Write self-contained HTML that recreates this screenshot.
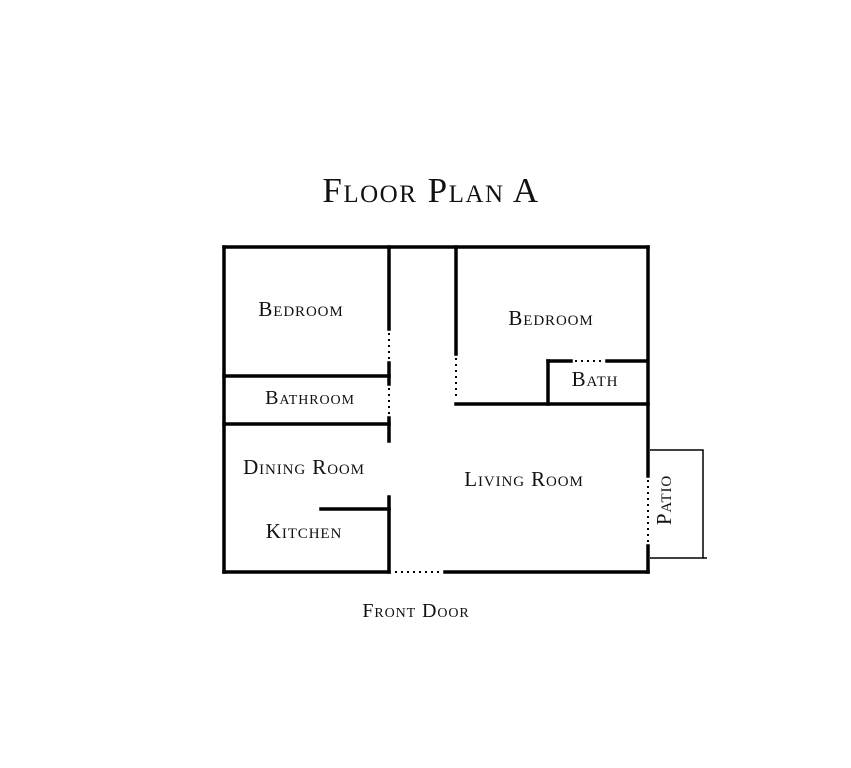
<!DOCTYPE html>
<html><head><meta charset="utf-8"><style>
html,body{margin:0;padding:0;background:#fff;}
svg{display:block}
text{font-family:"Liberation Serif",serif;font-variant:small-caps;fill:#111;text-anchor:middle;letter-spacing:0.9px}
</style></head><body>
<svg width="851" height="768" viewBox="0 0 851 768" xmlns="http://www.w3.org/2000/svg">
<text x="431" y="202" font-size="35" style="letter-spacing:1.5px">Floor Plan A</text>
<g stroke="#000" stroke-width="3.5" fill="none" stroke-linecap="square">
<line x1="224" y1="247" x2="648" y2="247"/>
<line x1="224" y1="247" x2="224" y2="572"/>
<line x1="224" y1="572" x2="389" y2="572"/>
<line x1="445" y1="572" x2="648" y2="572"/>
<line x1="648" y1="247" x2="648" y2="476"/>
<line x1="648" y1="546" x2="648" y2="572"/>
<line x1="389" y1="247" x2="389" y2="329"/>
<line x1="389" y1="363" x2="389" y2="384"/>
<line x1="389" y1="418" x2="389" y2="441"/>
<line x1="389" y1="497" x2="389" y2="572"/>
<line x1="224" y1="376" x2="389" y2="376"/>
<line x1="224" y1="424" x2="389" y2="424"/>
<line x1="321" y1="509" x2="389" y2="509"/>
<line x1="456" y1="247" x2="456" y2="354"/>
<line x1="456" y1="404" x2="648" y2="404"/>
<line x1="548" y1="361" x2="548" y2="404"/>
<line x1="548" y1="361" x2="571" y2="361"/>
<line x1="607" y1="361" x2="646" y2="361"/>
</g>
<g stroke="#000" stroke-width="2" stroke-dasharray="2,4" fill="none">
<line x1="389" y1="333" x2="389" y2="360"/>
<line x1="389" y1="388" x2="389" y2="416"/>
<line x1="456" y1="358" x2="456" y2="400"/>
<line x1="395" y1="572" x2="442" y2="572"/>
<line x1="575" y1="361" x2="605" y2="361"/>
<line x1="648" y1="480" x2="648" y2="543"/>
</g>
<g stroke="#000" stroke-width="1.5" fill="none">
<polyline points="650,450 703,450 703,558 650,558"/>
<line x1="703" y1="558" x2="707" y2="558"/>
</g>
<text x="301" y="316" font-size="21">Bedroom</text>
<text x="551" y="325" font-size="21">Bedroom</text>
<text x="310" y="404" font-size="20">Bathroom</text>
<text x="595" y="386" font-size="21">Bath</text>
<text x="304" y="474" font-size="21">Dining Room</text>
<text x="304" y="538" font-size="21">Kitchen</text>
<text x="524" y="486" font-size="21">Living Room</text>
<text x="416" y="617" font-size="20">Front Door</text>
<text x="0" y="0" font-size="21" transform="translate(671,500) rotate(-90)">Patio</text>
</svg>
</body></html>
